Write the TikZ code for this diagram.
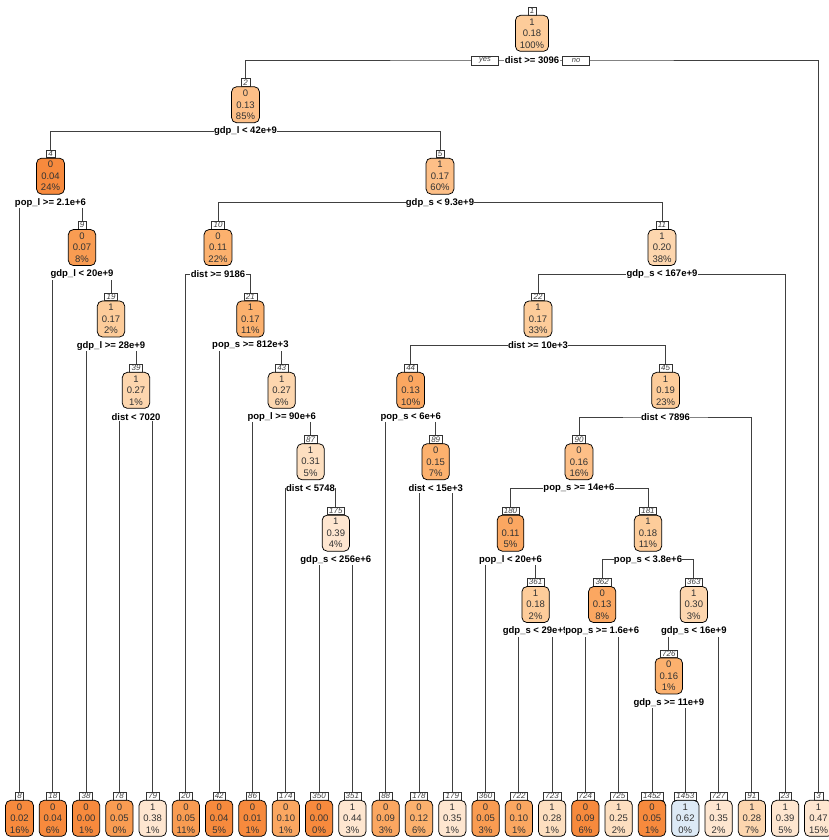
\documentclass[tikz,border=0pt]{standalone}
\usepackage{fontspec}
\setmainfont{Liberation Sans}
\usepackage{tikz}
\usepackage{xcolor}
\usetikzlibrary{positioning, calc}

\definecolor{oA}{HTML}{F78A3D}
\definecolor{oB}{HTML}{F99C52}
\definecolor{oC}{HTML}{FBA761}
\definecolor{oD}{HTML}{FCB16E}
\definecolor{oE}{HTML}{FDBF87}
\definecolor{oF}{HTML}{FDCC9A}
\definecolor{oG}{HTML}{FDD6AE}
\definecolor{oH}{HTML}{FDDFC0}
\definecolor{oI}{HTML}{FEE6D0}
\definecolor{bA}{HTML}{DDEAF6}
\pgfdeclarelayer{edges}
\pgfsetlayers{edges,main}

\begin{document}
\begin{tikzpicture}[x=1pt, y=-1pt,
    tag/.style={draw=black!80, fill=white, line width=0.45pt, inner xsep=2pt, inner ysep=0.4pt,
        minimum height=7.5pt, font=\fontsize{8}{8}\itshape\selectfont, text=black!75},
    box/.style={draw=black, rounded corners=5pt, line width=0.75pt, align=center, inner xsep=4.4pt,
        inner ysep=2pt, minimum height=36pt, font=\fontsize{9.5}{11.5}\selectfont, text=black!80},
    split/.style={fill=white, inner xsep=0.4pt, inner ysep=1pt, font=\fontsize{9.5}{9.5}\bfseries\selectfont},
    yesno/.style={draw=black!80, fill=white, line width=0.45pt, minimum width=27pt, minimum height=8.5pt,
        inner sep=0.5pt, font=\fontsize{7.5}{7.5}\itshape\selectfont, text=black!75},
    branch/.style={draw=black!75, line width=0.85pt}]
    \useasboundingbox (0,0) rectangle (828,840);

    % internal nodes
    \node[tag] (t1) at (532,11) {1};
    \node[box, fill=oF, below=0pt of t1] (n1) {1\\0.18\\100\%};
    \node[split] (s1) at (532,60) {dist >= 3096};
    \node[yesno] (yes) at (485,60.5) {yes};
    \node[yesno] (no) at (576,60.5) {no};

    \node[tag] (t2) at (245.5,82.4) {2};
    \node[box, fill=oE, below=0pt of t2] (n2) {0\\0.13\\85\%};
    \node[split] (s2) at (245.5,131.4) {gdp\_l < 42e+9};

    \node[tag] (t4) at (50.5,153.8) {4};
    \node[box, fill=oA, below=0pt of t4] (n4) {0\\0.04\\24\%};
    \node[split] (s4) at (50.5,202.8) {pop\_l >= 2.1e+6};

    \node[tag] (t5) at (440,153.8) {5};
    \node[box, fill=oE, below=0pt of t5] (n5) {1\\0.17\\60\%};
    \node[split] (s5) at (440,202.8) {gdp\_s < 9.3e+9};

    \node[tag] (t9) at (82,225.2) {9};
    \node[box, fill=oB, below=0pt of t9] (n9) {0\\0.07\\8\%};
    \node[split] (s9) at (82,274.2) {gdp\_l < 20e+9};

    \node[tag] (t10) at (218,225.2) {10};
    \node[box, fill=oD, below=0pt of t10] (n10) {0\\0.11\\22\%};
    \node[split] (s10) at (218,274.2) {dist >= 9186};

    \node[tag] (t11) at (662,225.2) {11};
    \node[box, fill=oG, below=0pt of t11] (n11) {1\\0.20\\38\%};
    \node[split] (s11) at (662,274.2) {gdp\_s < 167e+9};

    \node[tag] (t19) at (111,296.6) {19};
    \node[box, fill=oF, below=0pt of t19] (n19) {1\\0.17\\2\%};
    \node[split] (s19) at (111,345.6) {gdp\_l >= 28e+9};

    \node[tag] (t21) at (250.4,296.6) {21};
    \node[box, fill=oD, below=0pt of t21] (n21) {1\\0.17\\11\%};
    \node[split] (s21) at (250.4,345.6) {pop\_s >= 812e+3};

    \node[tag] (t22) at (538,296.6) {22};
    \node[box, fill=oF, below=0pt of t22] (n22) {1\\0.17\\33\%};
    \node[split] (s22) at (538,345.6) {dist >= 10e+3};

    \node[tag] (t39) at (136,368) {39};
    \node[box, fill=oG, below=0pt of t39] (n39) {1\\0.27\\1\%};
    \node[split] (s39) at (136,417) {dist < 7020};

    \node[tag] (t43) at (281.7,368) {43};
    \node[box, fill=oG, below=0pt of t43] (n43) {1\\0.27\\6\%};
    \node[split] (s43) at (281.7,417) {pop\_l >= 90e+6};

    \node[tag] (t44) at (410.7,368) {44};
    \node[box, fill=oC, below=0pt of t44] (n44) {0\\0.13\\10\%};
    \node[split] (s44) at (410.7,417) {pop\_s < 6e+6};

    \node[tag] (t45) at (665.6,368) {45};
    \node[box, fill=oF, below=0pt of t45] (n45) {1\\0.19\\23\%};
    \node[split] (s45) at (665.6,417) {dist < 7896};

    \node[tag] (t87) at (310.6,439.4) {87};
    \node[box, fill=oH, below=0pt of t87] (n87) {1\\0.31\\5\%};
    \node[split] (s87) at (310.6,488.4) {dist < 5748};

    \node[tag] (t89) at (435.7,439.4) {89};
    \node[box, fill=oD, below=0pt of t89] (n89) {0\\0.15\\7\%};
    \node[split] (s89) at (435.7,488.4) {dist < 15e+3};

    \node[tag] (t90) at (579,439.4) {90};
    \node[box, fill=oE, below=0pt of t90] (n90) {0\\0.16\\16\%};
    \node[split] (s90) at (579,488.4) {pop\_s >= 14e+6};

    \node[tag] (t175) at (335.8,510.8) {175};
    \node[box, fill=oI, below=0pt of t175] (n175) {1\\0.39\\4\%};
    \node[split] (s175) at (335.8,559.8) {gdp\_s < 256e+6};

    \node[tag] (t180) at (510.5,510.8) {180};
    \node[box, fill=oC, below=0pt of t180] (n180) {0\\0.11\\5\%};
    \node[split] (s180) at (510.5,559.8) {pop\_l < 20e+6};

    \node[tag] (t181) at (648,510.8) {181};
    \node[box, fill=oF, below=0pt of t181] (n181) {1\\0.18\\11\%};
    \node[split] (s181) at (648,559.8) {pop\_s < 3.8e+6};

    \node[tag] (t361) at (535.6,582.2) {361};
    \node[box, fill=oF, below=0pt of t361] (n361) {1\\0.18\\2\%};
    \node[split] (s361) at (535.6,631.2) {gdp\_s < 29e+9};

    \node[tag] (t362) at (602.2,582.2) {362};
    \node[box, fill=oC, below=0pt of t362] (n362) {0\\0.13\\8\%};
    \node[split] (s362) at (602.2,631.2) {pop\_s >= 1.6e+6};

    \node[tag] (t363) at (693.8,582.2) {363};
    \node[box, fill=oG, below=0pt of t363] (n363) {1\\0.30\\3\%};
    \node[split] (s363) at (693.8,631.2) {gdp\_s < 16e+9};

    \node[tag] (t726) at (668.8,653.6) {726};
    \node[box, fill=oD, below=0pt of t726] (n726) {0\\0.16\\1\%};
    \node[split] (s726) at (668.8,702.6) {gdp\_s >= 11e+9};

    % leaves
    \node[tag] (t8) at (19.5,796) {8};
    \node[box, fill=oA, below=0pt of t8] (n8) {0\\0.02\\16\%};
    \node[tag] (t18) at (52.8,796) {18};
    \node[box, fill=oA, below=0pt of t18] (n18) {0\\0.04\\6\%};
    \node[tag] (t38) at (86.1,796) {38};
    \node[box, fill=oA, below=0pt of t38] (n38) {0\\0.00\\1\%};
    \node[tag] (t78) at (119.4,796) {78};
    \node[box, fill=oB, below=0pt of t78] (n78) {0\\0.05\\0\%};
    \node[tag] (t79) at (152.7,796) {79};
    \node[box, fill=oI, below=0pt of t79] (n79) {1\\0.38\\1\%};
    \node[tag] (t20) at (185.9,796) {20};
    \node[box, fill=oB, below=0pt of t20] (n20) {0\\0.05\\11\%};
    \node[tag] (t42) at (219.2,796) {42};
    \node[box, fill=oA, below=0pt of t42] (n42) {0\\0.04\\5\%};
    \node[tag] (t86) at (252.5,796) {86};
    \node[box, fill=oA, below=0pt of t86] (n86) {0\\0.01\\1\%};
    \node[tag] (t174) at (285.8,796) {174};
    \node[box, fill=oC, below=0pt of t174] (n174) {0\\0.10\\1\%};
    \node[tag] (t350) at (319.1,796) {350};
    \node[box, fill=oA, below=0pt of t350] (n350) {0\\0.00\\0\%};
    \node[tag] (t351) at (352.4,796) {351};
    \node[box, fill=oI, below=0pt of t351] (n351) {1\\0.44\\3\%};
    \node[tag] (t88) at (385.7,796) {88};
    \node[box, fill=oC, below=0pt of t88] (n88) {0\\0.09\\3\%};
    \node[tag] (t178) at (419,796) {178};
    \node[box, fill=oD, below=0pt of t178] (n178) {0\\0.12\\6\%};
    \node[tag] (t179) at (452.3,796) {179};
    \node[box, fill=oI, below=0pt of t179] (n179) {1\\0.35\\1\%};
    \node[tag] (t360) at (485.6,796) {360};
    \node[box, fill=oB, below=0pt of t360] (n360) {0\\0.05\\3\%};
    \node[tag] (t722) at (518.9,796) {722};
    \node[box, fill=oC, below=0pt of t722] (n722) {0\\0.10\\1\%};
    \node[tag] (t723) at (552.1,796) {723};
    \node[box, fill=oH, below=0pt of t723] (n723) {1\\0.28\\1\%};
    \node[tag] (t724) at (585.4,796) {724};
    \node[box, fill=oA, below=0pt of t724] (n724) {0\\0.09\\6\%};
    \node[tag] (t725) at (618.7,796) {725};
    \node[box, fill=oH, below=0pt of t725] (n725) {1\\0.25\\2\%};
    \node[tag] (t1452) at (652,796) {1452};
    \node[box, fill=oA, below=0pt of t1452] (n1452) {0\\0.05\\1\%};
    \node[tag] (t1453) at (685.3,796) {1453};
    \node[box, fill=bA, below=0pt of t1453] (n1453) {1\\0.62\\0\%};
    \node[tag] (t727) at (718.6,796) {727};
    \node[box, fill=oI, below=0pt of t727] (n727) {1\\0.35\\2\%};
    \node[tag] (t91) at (751.9,796) {91};
    \node[box, fill=oG, below=0pt of t91] (n91) {1\\0.28\\7\%};
    \node[tag] (t23) at (785.2,796) {23};
    \node[box, fill=oI, below=0pt of t23] (n23) {1\\0.39\\5\%};
    \node[tag] (t3) at (818.5,796) {3};
    \node[box, fill=oI, below=0pt of t3] (n3) {1\\0.47\\15\%};

    % branches, behind the split labels
    \begin{pgfonlayer}{edges}
        \draw[branch] (t2.north) |- (s1.center) -| (t3.north);
        \draw[branch] (t4.north) |- (s2.center) -| (t5.north);
        \draw[branch] (t8.north) |- (s4.center) -| (t9.north);
        \draw[branch] (t10.north) |- (s5.center) -| (t11.north);
        \draw[branch] (t18.north) |- (s9.center) -| (t19.north);
        \draw[branch] (t20.north) |- (s10.center) -| (t21.north);
        \draw[branch] (t22.north) |- (s11.center) -| (t23.north);
        \draw[branch] (t38.north) |- (s19.center) -| (t39.north);
        \draw[branch] (t42.north) |- (s21.center) -| (t43.north);
        \draw[branch] (t44.north) |- (s22.center) -| (t45.north);
        \draw[branch] (t78.north) |- (s39.center) -| (t79.north);
        \draw[branch] (t86.north) |- (s43.center) -| (t87.north);
        \draw[branch] (t88.north) |- (s44.center) -| (t89.north);
        \draw[branch] (t90.north) |- (s45.center) -| (t91.north);
        \draw[branch] (t174.north) |- (s87.center) -| (t175.north);
        \draw[branch] (t178.north) |- (s89.center) -| (t179.north);
        \draw[branch] (t180.north) |- (s90.center) -| (t181.north);
        \draw[branch] (t350.north) |- (s175.center) -| (t351.north);
        \draw[branch] (t360.north) |- (s180.center) -| (t361.north);
        \draw[branch] (t362.north) |- (s181.center) -| (t363.north);
        \draw[branch] (t722.north) |- (s361.center) -| (t723.north);
        \draw[branch] (t724.north) |- (s362.center) -| (t725.north);
        \draw[branch] (t726.north) |- (s363.center) -| (t727.north);
        \draw[branch] (t1452.north) |- (s726.center) -| (t1453.north);
    \end{pgfonlayer}
\end{tikzpicture}
\end{document}
